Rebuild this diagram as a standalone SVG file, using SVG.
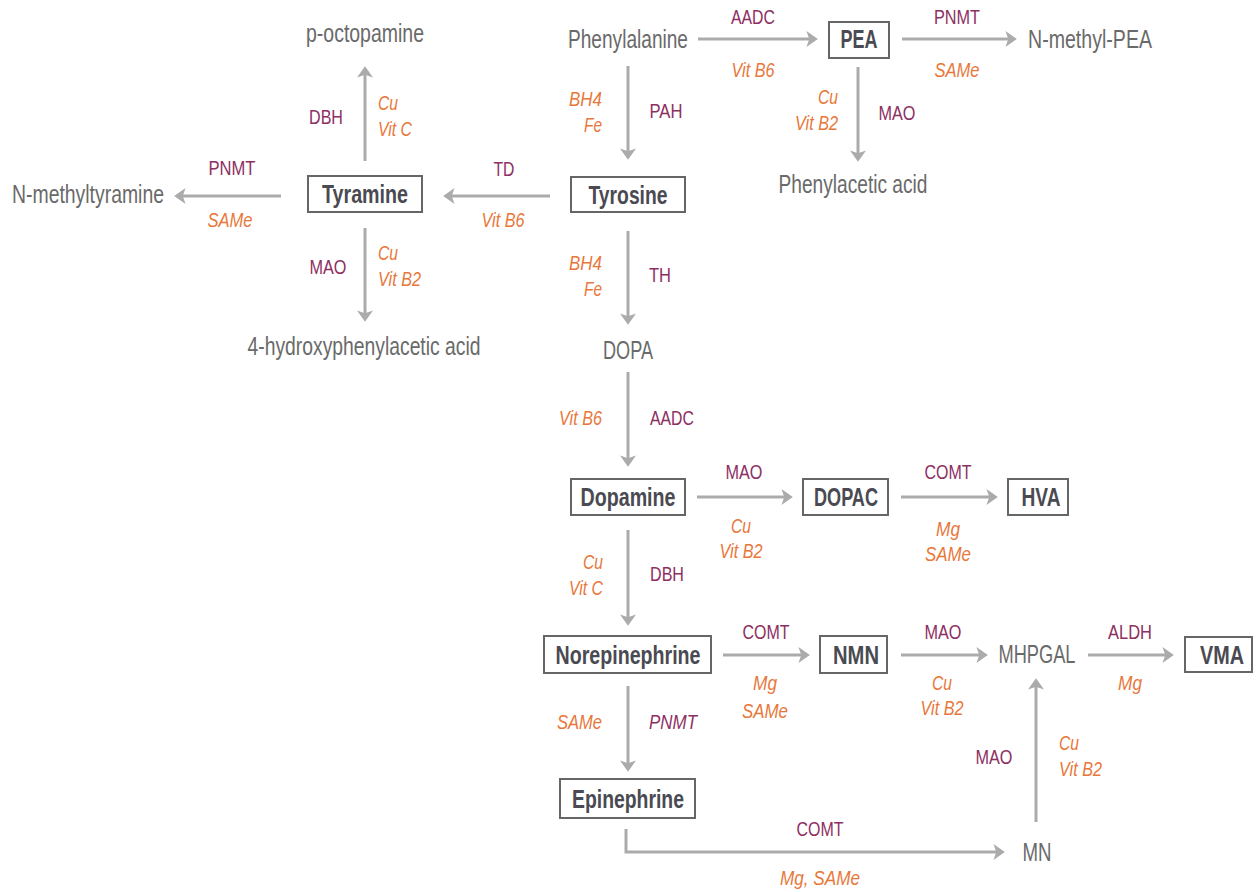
<svg xmlns="http://www.w3.org/2000/svg" width="1259" height="892" viewBox="0 0 1259 892">
<defs>
<marker id="ah" markerUnits="userSpaceOnUse" markerWidth="12" markerHeight="16" viewBox="0 0 10 14" refX="4" refY="7" orient="auto">
<path d="M0,0 L10,7 L0,14 L2.5,7 z" fill="#ababab"/>
</marker>
<style>
text{font-family:"Liberation Sans","Arial",sans-serif;}
.n{font-size:25px;fill:#6a6a6a;text-anchor:middle;}
.b{font-size:25px;font-weight:bold;fill:#4a4a52;text-anchor:middle;}
.box{fill:#fff;stroke:#666;stroke-width:2;}
.e{font-size:21px;fill:#8e2f63;text-anchor:middle;}
.c{font-size:21px;fill:#e8773a;font-style:italic;text-anchor:middle;}
.l{text-anchor:start;}
.r{text-anchor:end;}
.i{font-style:italic;}
.a{fill:none;stroke:#ababab;stroke-width:3;marker-end:url(#ah);}
</style>
</defs>
<rect width="1259" height="892" fill="#fff"/>
<g id="connectors">
<path class="a" d="M698,39 H811"/>
<path class="a" d="M902,39 H1010"/>
<path class="a" d="M858,67 V155"/>
<path class="a" d="M628,66 V153"/>
<path class="a" d="M550,196 H450"/>
<path class="a" d="M281,196 H181"/>
<path class="a" d="M365,161 V73"/>
<path class="a" d="M365,228 V315"/>
<path class="a" d="M628,231 V318"/>
<path class="a" d="M628,372 V460"/>
<path class="a" d="M697,497 H786"/>
<path class="a" d="M901,497 H991"/>
<path class="a" d="M628,530 V619"/>
<path class="a" d="M723,655 H803"/>
<path class="a" d="M901,655 H981"/>
<path class="a" d="M1088,655 H1167"/>
<path class="a" d="M628,686 V765"/>
<path class="a" d="M626,829 V852 H998"/>
<path class="a" d="M1036,822 V685"/>
</g>
<g id="labels" lengthAdjust="spacingAndGlyphs">
<text class="e" x="753" y="24" textLength="44" lengthAdjust="spacingAndGlyphs">AADC</text>
<text class="c" x="753" y="77" textLength="43" lengthAdjust="spacingAndGlyphs">Vit B6</text>
<text class="e" x="957" y="24" textLength="46" lengthAdjust="spacingAndGlyphs">PNMT</text>
<text class="c" x="957" y="77" textLength="45" lengthAdjust="spacingAndGlyphs">SAMe</text>
<text class="c r" x="838" y="104" textLength="20" lengthAdjust="spacingAndGlyphs">Cu</text>
<text class="c r" x="838" y="130" textLength="43" lengthAdjust="spacingAndGlyphs">Vit B2</text>
<text class="e" x="897" y="120" textLength="37" lengthAdjust="spacingAndGlyphs">MAO</text>
<text class="c r" x="602" y="106" textLength="33" lengthAdjust="spacingAndGlyphs">BH4</text>
<text class="c r" x="602" y="132" textLength="18" lengthAdjust="spacingAndGlyphs">Fe</text>
<text class="e" x="666" y="118" textLength="33" lengthAdjust="spacingAndGlyphs">PAH</text>
<text class="e" x="504" y="176" textLength="21" lengthAdjust="spacingAndGlyphs">TD</text>
<text class="c" x="503" y="227" textLength="43" lengthAdjust="spacingAndGlyphs">Vit B6</text>
<text class="e" x="232" y="175" textLength="47" lengthAdjust="spacingAndGlyphs">PNMT</text>
<text class="c" x="230" y="227" textLength="45" lengthAdjust="spacingAndGlyphs">SAMe</text>
<text class="e" x="326" y="124" textLength="34" lengthAdjust="spacingAndGlyphs">DBH</text>
<text class="c l" x="378" y="110" textLength="20" lengthAdjust="spacingAndGlyphs">Cu</text>
<text class="c l" x="378" y="136" textLength="34" lengthAdjust="spacingAndGlyphs">Vit C</text>
<text class="e" x="328" y="274" textLength="37" lengthAdjust="spacingAndGlyphs">MAO</text>
<text class="c l" x="378" y="260" textLength="20" lengthAdjust="spacingAndGlyphs">Cu</text>
<text class="c l" x="378" y="286" textLength="43" lengthAdjust="spacingAndGlyphs">Vit B2</text>
<text class="c r" x="602" y="270" textLength="33" lengthAdjust="spacingAndGlyphs">BH4</text>
<text class="c r" x="602" y="296" textLength="18" lengthAdjust="spacingAndGlyphs">Fe</text>
<text class="e" x="660" y="282" textLength="22" lengthAdjust="spacingAndGlyphs">TH</text>
<text class="c r" x="602" y="425" textLength="43" lengthAdjust="spacingAndGlyphs">Vit B6</text>
<text class="e" x="672" y="425" textLength="44" lengthAdjust="spacingAndGlyphs">AADC</text>
<text class="e" x="744" y="479" textLength="37" lengthAdjust="spacingAndGlyphs">MAO</text>
<text class="c" x="741" y="533" textLength="20" lengthAdjust="spacingAndGlyphs">Cu</text>
<text class="c" x="741" y="558" textLength="43" lengthAdjust="spacingAndGlyphs">Vit B2</text>
<text class="e" x="948" y="479" textLength="47" lengthAdjust="spacingAndGlyphs">COMT</text>
<text class="c" x="948" y="536" textLength="24" lengthAdjust="spacingAndGlyphs">Mg</text>
<text class="c" x="948" y="561" textLength="46" lengthAdjust="spacingAndGlyphs">SAMe</text>
<text class="c r" x="603" y="569" textLength="20" lengthAdjust="spacingAndGlyphs">Cu</text>
<text class="c r" x="603" y="595" textLength="34" lengthAdjust="spacingAndGlyphs">Vit C</text>
<text class="e" x="667" y="581" textLength="34" lengthAdjust="spacingAndGlyphs">DBH</text>
<text class="e" x="766" y="639" textLength="47" lengthAdjust="spacingAndGlyphs">COMT</text>
<text class="c" x="765" y="690" textLength="24" lengthAdjust="spacingAndGlyphs">Mg</text>
<text class="c" x="765" y="718" textLength="46" lengthAdjust="spacingAndGlyphs">SAMe</text>
<text class="e" x="943" y="639" textLength="37" lengthAdjust="spacingAndGlyphs">MAO</text>
<text class="c" x="942" y="690" textLength="20" lengthAdjust="spacingAndGlyphs">Cu</text>
<text class="c" x="942" y="715" textLength="43" lengthAdjust="spacingAndGlyphs">Vit B2</text>
<text class="e" x="1130" y="639" textLength="44" lengthAdjust="spacingAndGlyphs">ALDH</text>
<text class="c" x="1130" y="690" textLength="24" lengthAdjust="spacingAndGlyphs">Mg</text>
<text class="c r" x="602" y="729" textLength="45" lengthAdjust="spacingAndGlyphs">SAMe</text>
<text class="e i" x="673" y="729" textLength="48" lengthAdjust="spacingAndGlyphs">PNMT</text>
<text class="e" x="820" y="836" textLength="47" lengthAdjust="spacingAndGlyphs">COMT</text>
<text class="c" x="820" y="885" textLength="80" lengthAdjust="spacingAndGlyphs">Mg, SAMe</text>
<text class="e" x="994" y="764" textLength="37" lengthAdjust="spacingAndGlyphs">MAO</text>
<text class="c l" x="1059" y="750" textLength="20" lengthAdjust="spacingAndGlyphs">Cu</text>
<text class="c l" x="1059" y="776" textLength="43" lengthAdjust="spacingAndGlyphs">Vit B2</text>
</g>
<g id="phenylalanine"><text class="n" x="628" y="48" textLength="120" lengthAdjust="spacingAndGlyphs">Phenylalanine</text></g>
<g id="pea"><rect class="box" x="829" y="22" width="60" height="36"/><text class="b" x="859" y="48" textLength="37" lengthAdjust="spacingAndGlyphs">PEA</text></g>
<g id="n-methyl-pea"><text class="n" x="1090" y="48" textLength="124" lengthAdjust="spacingAndGlyphs">N-methyl-PEA</text></g>
<g id="phenylacetic-acid"><text class="n" x="853" y="193" textLength="149" lengthAdjust="spacingAndGlyphs">Phenylacetic acid</text></g>
<g id="tyrosine"><rect class="box" x="571" y="177" width="114" height="35"/><text class="b" x="628" y="204" textLength="79" lengthAdjust="spacingAndGlyphs">Tyrosine</text></g>
<g id="tyramine"><rect class="box" x="308" y="176" width="114" height="36"/><text class="b" x="365" y="203" textLength="86" lengthAdjust="spacingAndGlyphs">Tyramine</text></g>
<g id="n-methyltyramine"><text class="n" x="88" y="203" textLength="152" lengthAdjust="spacingAndGlyphs">N-methyltyramine</text></g>
<g id="p-octopamine"><text class="n" x="365" y="42" textLength="118" lengthAdjust="spacingAndGlyphs">p-octopamine</text></g>
<g id="hpaa"><text class="n" x="364" y="355" textLength="233" lengthAdjust="spacingAndGlyphs">4-hydroxyphenylacetic acid</text></g>
<g id="dopa"><text class="n" x="628" y="359" textLength="50" lengthAdjust="spacingAndGlyphs">DOPA</text></g>
<g id="dopamine"><rect class="box" x="571" y="479" width="114" height="36"/><text class="b" x="628" y="506" textLength="95" lengthAdjust="spacingAndGlyphs">Dopamine</text></g>
<g id="dopac"><rect class="box" x="803" y="479" width="85" height="36"/><text class="b" x="846" y="506" textLength="64" lengthAdjust="spacingAndGlyphs">DOPAC</text></g>
<g id="hva"><rect class="box" x="1008" y="479" width="60" height="36"/><text class="b" x="1041" y="506" textLength="39" lengthAdjust="spacingAndGlyphs">HVA</text></g>
<g id="norepinephrine"><rect class="box" x="544" y="636" width="167" height="37"/><text class="b" x="628" y="664" textLength="145" lengthAdjust="spacingAndGlyphs">Norepinephrine</text></g>
<g id="nmn"><rect class="box" x="820" y="636" width="67" height="37"/><text class="b" x="856" y="664" textLength="46" lengthAdjust="spacingAndGlyphs">NMN</text></g>
<g id="mhpgal"><text class="n" x="1037" y="663" textLength="77" lengthAdjust="spacingAndGlyphs">MHPGAL</text></g>
<g id="vma"><rect class="box" x="1185" y="637" width="67" height="35"/><text class="b" x="1222" y="664" textLength="44" lengthAdjust="spacingAndGlyphs">VMA</text></g>
<g id="epinephrine"><rect class="box" x="560" y="779" width="135" height="39"/><text class="b" x="628" y="808" textLength="112" lengthAdjust="spacingAndGlyphs">Epinephrine</text></g>
<g id="mn"><text class="n" x="1037" y="861" textLength="29" lengthAdjust="spacingAndGlyphs">MN</text></g>
</svg>
